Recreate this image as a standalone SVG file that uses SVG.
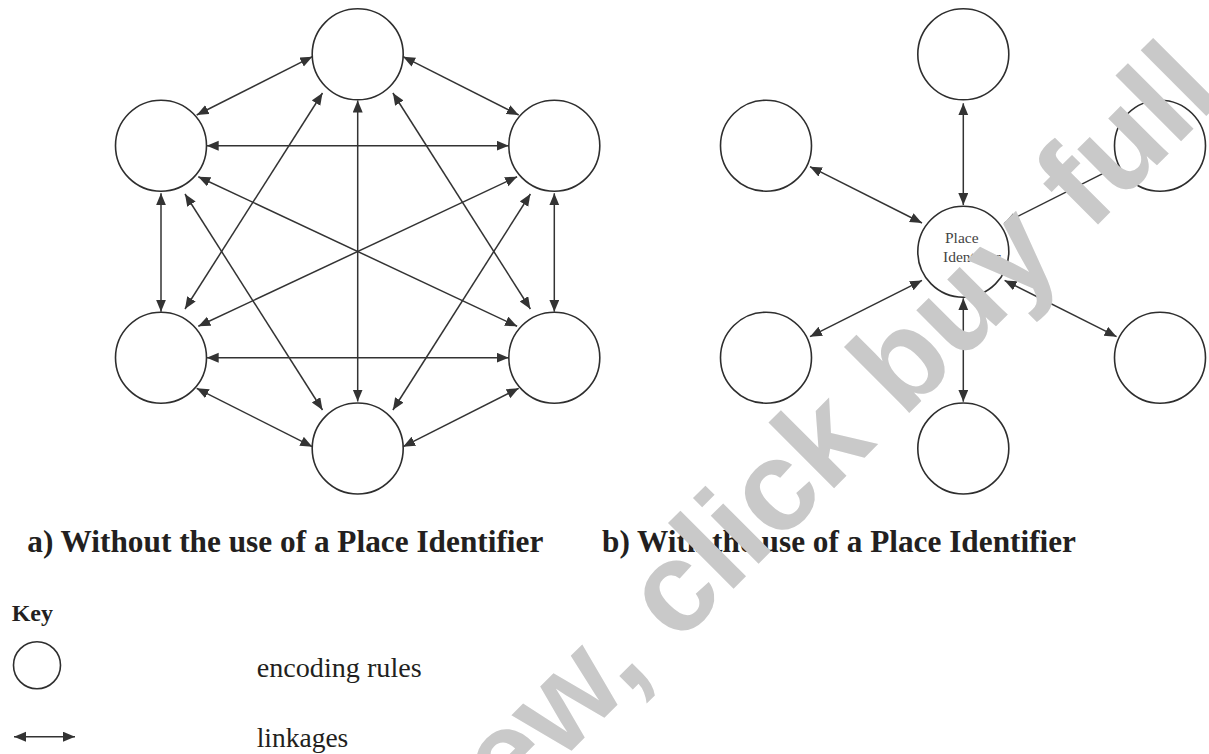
<svg xmlns="http://www.w3.org/2000/svg" width="1209" height="754" viewBox="0 0 1209 754">
<style>
.node{fill:#fff;stroke:#2e2e2e;stroke-width:1.6}
.link{stroke:#333;stroke-width:1.5;fill:none;marker-start:url(#ah);marker-end:url(#ah)}
.cap{font-family:"Liberation Serif",serif;font-weight:bold;fill:#231f20}
.key{font-family:"Liberation Serif",serif;fill:#231f20}
.pi{font-family:"Liberation Serif",serif;font-size:15.5px;fill:#444}
.wm{font-family:"Liberation Sans",Arial,sans-serif;font-weight:bold;fill:#c9c9c9}
</style>
<defs>
<marker id="ah" markerUnits="userSpaceOnUse" markerWidth="13" markerHeight="11" refX="12" refY="5" orient="auto-start-reverse">
<path d="M0,0 L12,5 L0,10 z" fill="#333"/>
</marker>
</defs>
<rect width="1209" height="754" fill="#fff"/>

<!-- left diagram nodes -->
<g id="a-top"><circle class="node" cx="357.7" cy="54.3" r="45.5"/></g>
<g id="a-ul"><circle class="node" cx="161" cy="145.7" r="45.5"/></g>
<g id="a-ur"><circle class="node" cx="554.3" cy="145.7" r="45.5"/></g>
<g id="a-ll"><circle class="node" cx="161" cy="357.7" r="45.5"/></g>
<g id="a-lr"><circle class="node" cx="554.3" cy="357.7" r="45.5"/></g>
<g id="a-bottom"><circle class="node" cx="357.7" cy="448.5" r="45.5"/></g>

<!-- right diagram nodes -->
<g id="b-top"><circle class="node" cx="963.3" cy="54.3" r="45.5"/></g>
<g id="b-ul"><circle class="node" cx="766" cy="145.7" r="45.5"/></g>
<g id="b-ur"><circle class="node" cx="1160" cy="145.7" r="45.5"/></g>
<g id="b-ll"><circle class="node" cx="766" cy="357.7" r="45.5"/></g>
<g id="b-lr"><circle class="node" cx="1160" cy="357.7" r="45.5"/></g>
<g id="b-bottom"><circle class="node" cx="963.3" cy="448.5" r="45.5"/></g>
<g id="b-center"><circle class="node" cx="963.3" cy="251.7" r="45.5"/>
<text class="pi" x="945" y="242.7">Place</text>
<text class="pi" x="943" y="261.7">Identifier</text>
</g>

<g id="connectors">
<!-- left -->
<line class="link" x1="196.7" y1="115" x2="312.3" y2="56.7"/>
<line class="link" x1="518.7" y1="115" x2="403.1" y2="56.7"/>
<line class="link" x1="206.7" y1="145.7" x2="508.7" y2="145.7"/>
<line class="link" x1="206.7" y1="357.7" x2="508.7" y2="357.7"/>
<line class="link" x1="161" y1="193.3" x2="161" y2="311.7"/>
<line class="link" x1="554.3" y1="193.3" x2="554.3" y2="311.7"/>
<line class="link" x1="357.7" y1="100.5" x2="357.7" y2="401.5"/>
<line class="link" x1="196.7" y1="388.3" x2="312.3" y2="446.7"/>
<line class="link" x1="518.7" y1="388.3" x2="403.1" y2="446.7"/>
<line class="link" x1="322.5" y1="93" x2="185" y2="309"/>
<line class="link" x1="392.9" y1="93" x2="530.4" y2="309"/>
<line class="link" x1="185" y1="194" x2="322.5" y2="410"/>
<line class="link" x1="530.4" y1="194" x2="392.9" y2="410"/>
<line class="link" x1="198.3" y1="176.7" x2="517.1" y2="326.3"/>
<line class="link" x1="517.1" y1="176.7" x2="198.3" y2="326.3"/>
<!-- right -->
<line class="link" x1="963.3" y1="103.3" x2="963.3" y2="205"/>
<line class="link" x1="963.3" y1="298.3" x2="963.3" y2="401.7"/>
<line class="link" x1="810" y1="166.7" x2="922" y2="223"/>
<line class="link" x1="1116.6" y1="166.7" x2="1004.6" y2="223"/>
<line class="link" x1="810" y1="336.7" x2="922" y2="280.4"/>
<line class="link" x1="1116.6" y1="336.7" x2="1004.6" y2="280.4"/>
</g>

<text class="cap" x="27.3" y="551.5" font-size="31" textLength="516" lengthAdjust="spacingAndGlyphs">a) Without the use of a Place Identifier</text>
<text class="cap" x="602" y="551.5" font-size="31" textLength="474" lengthAdjust="spacingAndGlyphs">b) With the use of a Place Identifier</text>

<g id="key">
<text class="cap" x="11.7" y="621" font-size="24">Key</text>
<circle class="node" cx="37" cy="665.3" r="23.5"/>
<text class="key" x="256.7" y="677.3" font-size="28" textLength="165" lengthAdjust="spacingAndGlyphs">encoding rules</text>
<line class="link" x1="14" y1="736.7" x2="75" y2="736.7"/>
<text class="key" x="256.7" y="746.7" font-size="28" textLength="91.6" lengthAdjust="spacingAndGlyphs">linkages</text>
</g>

<text class="wm" transform="rotate(-45)" x="-528" y="935" font-size="128">Preview, click buy full</text>
</svg>
